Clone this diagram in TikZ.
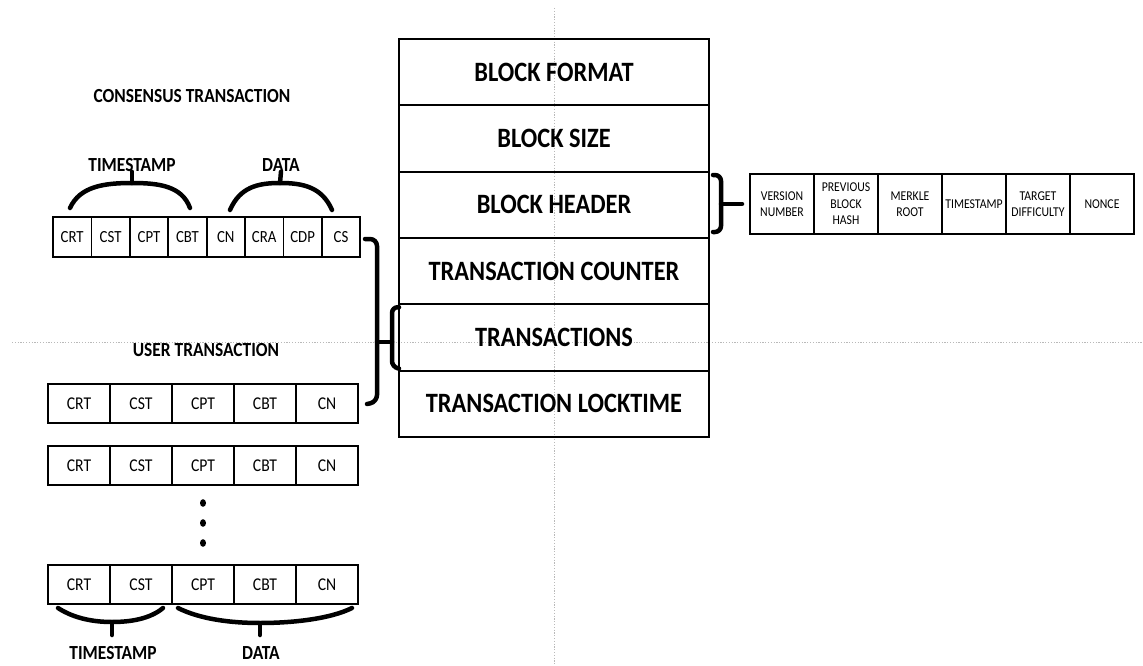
\documentclass[tikz,border=0pt]{standalone}
\usepackage{fontspec}
\setmainfont{Carlito}[FakeStretch=0.87]
\usetikzlibrary{positioning, calc}

\begin{document}
\begin{tikzpicture}[
    x=1pt, y=-1pt,
    layer/.style={rectangle, draw, line width=2pt, minimum width=310pt, minimum height=66.3pt, outer sep=0pt, text centered, font=\fontsize{28}{32}\selectfont\bfseries},
    field/.style={rectangle, draw, line width=1.8pt, minimum width=64pt, minimum height=60pt, outer sep=0pt, inner sep=1pt, align=center, font=\fontsize{13.5}{16.5}\selectfont},
    cell/.style={rectangle, draw, line width=1.8pt, minimum width=38.4pt, minimum height=40pt, outer sep=0pt, inner sep=0pt, font=\fontsize{17}{20}\selectfont},
    ucell/.style={cell, minimum width=62pt, minimum height=39pt, font=\fontsize{18}{21}\selectfont},
    heading/.style={font=\fontsize{20}{23}\selectfont\bfseries, inner sep=0pt},
    bracket/.style={line width=4.5pt, line cap=round, line join=round},
    guide/.style={gray!55, line width=0.8pt, dash pattern=on 1.2pt off 1.6pt},
    node distance=0pt
]
\useasboundingbox (0,0) rectangle (1143,666);

% Guide lines
\coordinate (gtop) at (554,8);
\coordinate (gbot) at (554,666);
\coordinate (gleft) at (12,342);
\coordinate (gright) at (1143,342);
\draw[guide] (gtop) -- (gbot);
\draw[guide] (gleft) -- (gright);

% Block layers
\node[layer] (format) at (554,72.2) {BLOCK FORMAT};
\node[layer, below=of format] (size) {BLOCK SIZE};
\node[layer, below=of size] (header) {BLOCK HEADER};
\node[layer, below=of header] (counter) {TRANSACTION COUNTER};
\node[layer, below=of counter] (txs) {TRANSACTIONS};
\node[layer, below=of txs] (locktime) {TRANSACTION LOCKTIME};

% Block header fields
\node[field] (version) at (782,204) {VERSION\\NUMBER};
\node[field, right=of version] (prevhash) {PREVIOUS\\BLOCK\\HASH};
\node[field, right=of prevhash] (merkle) {MERKLE\\ROOT};
\node[field, right=of merkle] (hdrtime) {TIMESTAMP};
\node[field, right=of hdrtime] (target) {TARGET\\DIFFICULTY};
\node[field, right=of target] (nonce) {NONCE};

% Consensus transaction
\node[heading] (constitle) at (192,96) {CONSENSUS TRANSACTION};
\node[cell] (ccrt) at (72.2,237) {CRT};
\node[cell, right=of ccrt] (ccst) {CST};
\node[cell, right=of ccst] (ccpt) {CPT};
\node[cell, right=of ccpt] (ccbt) {CBT};
\node[cell, right=of ccbt] (ccn) {CN};
\node[cell, right=of ccn] (ccra) {CRA};
\node[cell, right=of ccra] (ccdp) {CDP};
\node[cell, right=of ccdp] (ccs) {CS};
\node[heading] (ctime) at (132,165) {TIMESTAMP};
\node[heading] (cdata) at (281,165) {DATA};

% User transactions
\node[heading] (usertitle) at (206,350) {USER TRANSACTION};
\node[ucell] (uacrt) at (79,403.5) {CRT};
\node[ucell, right=of uacrt] (uacst) {CST};
\node[ucell, right=of uacst] (uacpt) {CPT};
\node[ucell, right=of uacpt] (uacbt) {CBT};
\node[ucell, right=of uacbt] (uacn) {CN};

\node[ucell] (ubcrt) at (79,465.5) {CRT};
\node[ucell, right=of ubcrt] (ubcst) {CST};
\node[ucell, right=of ubcst] (ubcpt) {CPT};
\node[ucell, right=of ubcpt] (ubcbt) {CBT};
\node[ucell, right=of ubcbt] (ubcn) {CN};

\fill (203,503) ellipse (3pt and 3.8pt);
\fill (203,523) ellipse (3pt and 3.8pt);
\fill (203,543) ellipse (3pt and 3.8pt);

\node[ucell] (uccrt) at (79,584.5) {CRT};
\node[ucell, right=of uccrt] (uccst) {CST};
\node[ucell, right=of uccst] (uccpt) {CPT};
\node[ucell, right=of uccpt] (uccbt) {CBT};
\node[ucell, right=of uccbt] (uccn) {CN};
\node[heading] (utime) at (113,653) {TIMESTAMP};
\node[heading] (udata) at (261,653) {DATA};

% Braces over consensus fields
\draw[bracket] (70,208) .. controls (80,186) and (105,183) .. (132,183)
    .. controls (159,183) and (182,186) .. (190,208);
\draw[bracket] (132,183) -- (ctime.south);
\draw[bracket] (230,210) .. controls (240,187) and (258,183) .. (280,183)
    .. controls (303,183) and (322,187) .. (332,210);
\draw[bracket] (280,183) -- (cdata.south);

% Braces under user fields
\draw[bracket] (58,608) .. controls (75,619) and (95,622) .. (112,622)
    .. controls (130,622) and (150,619) .. (163,608);
\draw[bracket] (112,622) -- (112,635);
\draw[bracket] (178,608) .. controls (200,619) and (230,623) .. (260,623)
    .. controls (292,623) and (330,619) .. (352,608);
\draw[bracket] (260,623) -- (260,635);

% Bracket to block header fields
\coordinate (hdrtip) at ($(version.west)+(-8,0)$);
\draw[bracket, rounded corners=6pt] (713,175) -- (721,175) -- (721,232) -- (713,232);
\draw[bracket] (721,204) -- (hdrtip);

% Bracket from transactions to TRANSACTIONS layer
\coordinate (txjoin) at (377,342);
\draw[bracket, rounded corners=7pt] (365,239) -- (377,239) -- (377,402) -- (367,404);
\draw[bracket, rounded corners=6pt] ($(txs.north west)+(0,3)$) -- (392,307) -- (392,367) -- ($(txs.south west)+(0,-2)$);
\draw[bracket] (txjoin) -- (392,342);
\end{tikzpicture}
\end{document}
